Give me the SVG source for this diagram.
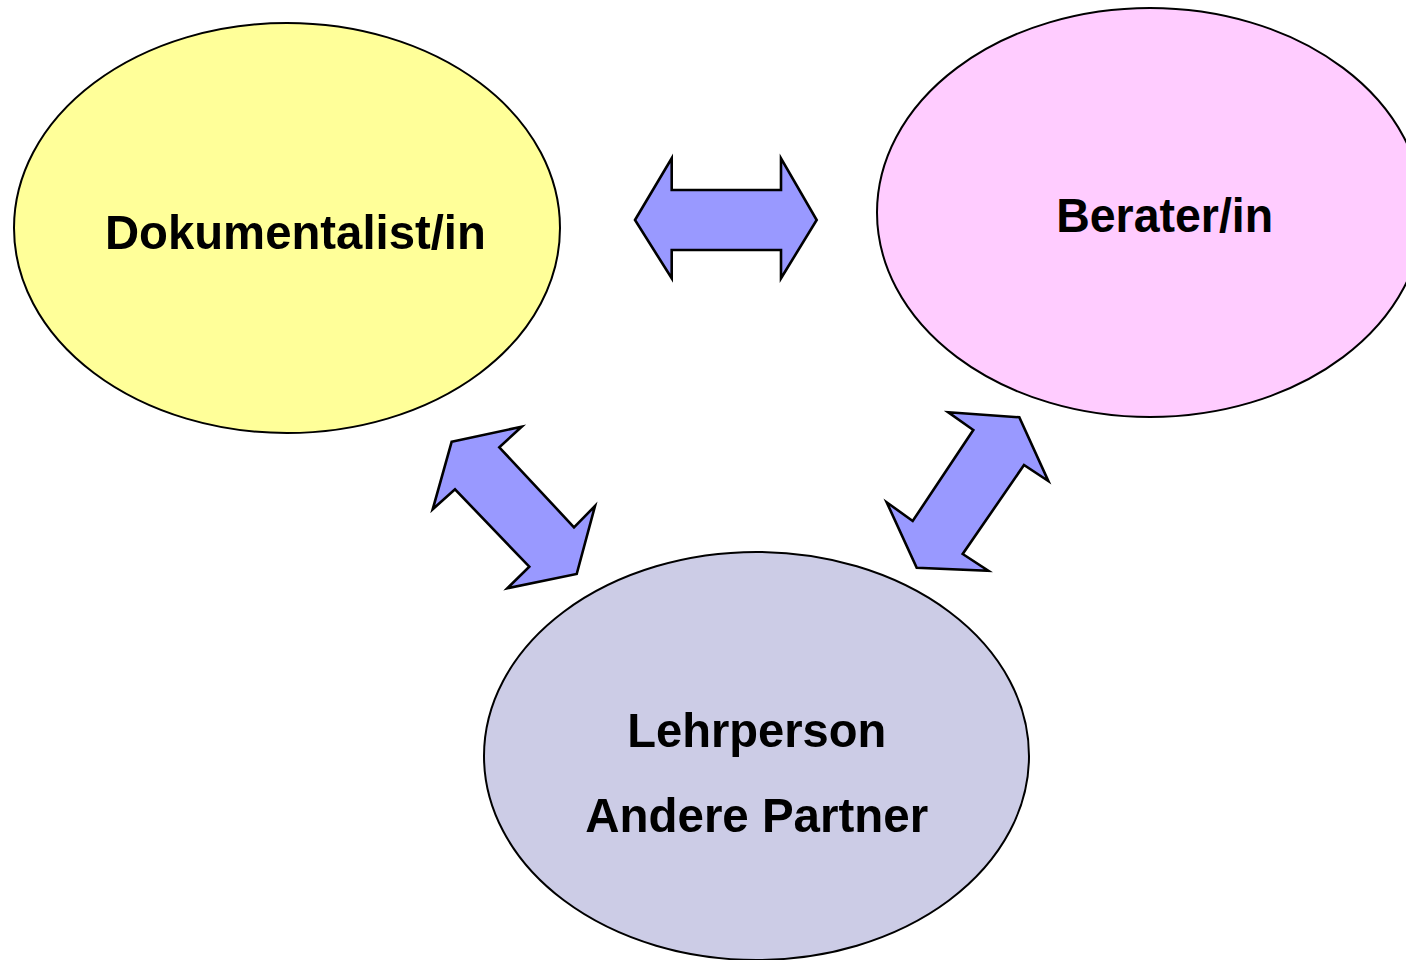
<svg xmlns="http://www.w3.org/2000/svg" width="1406" height="960" viewBox="0 0 1406 960">
<style>
.node{stroke:#000;stroke-width:2}
.arrow{fill:#9999FF;stroke:#000;stroke-width:2.6;stroke-linejoin:miter}
.lbl{font-family:"Liberation Sans",Arial,Helvetica,sans-serif;font-weight:bold;font-size:49px;fill:#000}
</style>
<rect width="1406" height="960" fill="#fff"/>
<g id="connectors">
<polygon class="arrow" points="635,220 671.7,158.3 671.7,190 781,190 781,158.3 816.7,220 781,278.3 781,250 671.7,250 671.7,278.3"/>
<polygon class="arrow" points="451.7,441.7 521.7,426.7 499.3,447.3 574,527.3 595,506 576.7,574 507.3,588.3 529.3,566.7 455,489.3 432.7,509.3"/>
<polygon class="arrow" points="948.3,412.3 1019.3,417.3 1048.3,481 1024,465 962.7,554 988.3,570.7 916.7,567.7 886.7,502.3 912.7,521 973.3,430"/>
</g>
<g id="node-dokumentalist">
<ellipse class="node" cx="287" cy="228" rx="273" ry="205" fill="#FFFF99"/>
<text class="lbl" x="295.4" y="248.5" text-anchor="middle" textLength="381" lengthAdjust="spacingAndGlyphs">Dokumentalist/in</text>
</g>
<g id="node-berater">
<ellipse class="node" cx="1150" cy="212.5" rx="273" ry="204.5" fill="#FFCCFF"/>
<text class="lbl" x="1164.7" y="232.3" text-anchor="middle" textLength="217" lengthAdjust="spacingAndGlyphs">Berater/in</text>
</g>
<g id="node-lehrperson">
<ellipse class="node" cx="756.5" cy="756" rx="272.5" ry="204" fill="#CCCCE6"/>
<text class="lbl" x="756.7" y="746.7" text-anchor="middle" textLength="259" lengthAdjust="spacingAndGlyphs">Lehrperson</text>
<text class="lbl" x="756.7" y="831.7" text-anchor="middle" textLength="343" lengthAdjust="spacingAndGlyphs">Andere Partner</text>
</g>
</svg>
